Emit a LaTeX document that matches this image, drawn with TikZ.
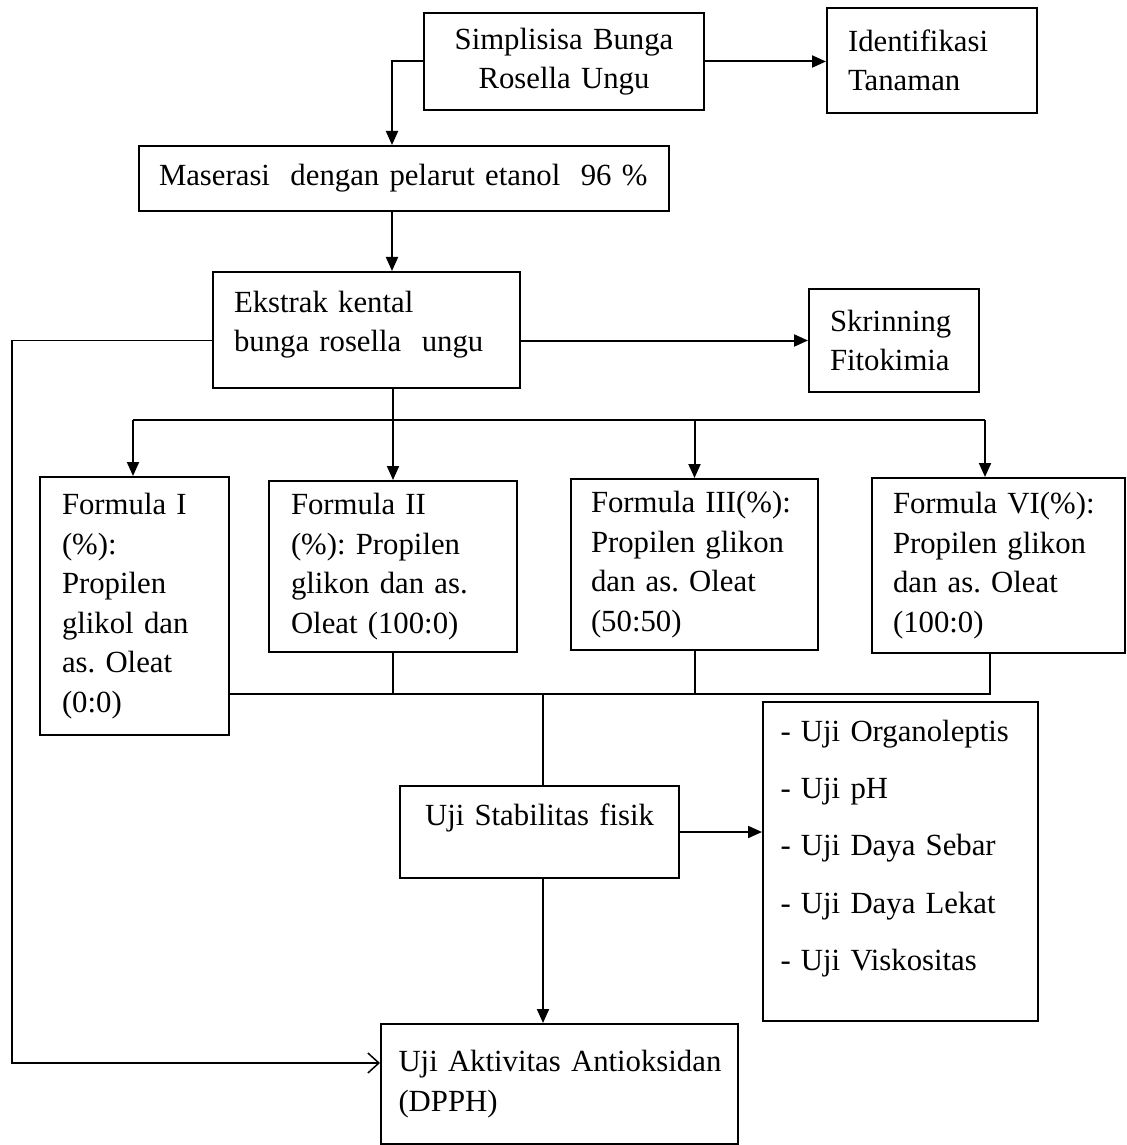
\documentclass[tikz,border=0pt]{standalone}
\usepackage{fontspec}
\setmainfont{Liberation Serif}
\usetikzlibrary{arrows.meta}
\frenchspacing
\hyphenpenalty=10000

\begin{document}
\begin{tikzpicture}[x=0.4pt,y=-0.4pt,
  font=\fontsize{12.3}{15.8}\selectfont,
  line width=0.8pt,
  box/.style={draw,anchor=north west,inner ysep=0pt,align=left},
  arr/.style={-{Triangle[length=5.6pt,width=4.8pt]}},
  barb/.style={-{Straight Barb[length=4.4pt,width=8pt]},line width=0.6pt}]
\useasboundingbox (0,0) rectangle (1126,1145);

\node[box,align=center,text width=96pt,inner xsep=8pt,minimum height=38.8pt] (simp) at (423,12) {Simplisisa Bunga\\Rosella Ungu};
\node[box,text width=67.2pt,inner xsep=8.4pt,minimum height=42pt] (ident) at (826,7) {Identifikasi\\Tanaman};
\node[box,text width=196pt,inner xsep=8pt,minimum height=26pt] (maser) at (138,145) {Maserasi\ \ dengan pelarut etanol\ \ 96~\%};
\node[box,text width=106pt,inner xsep=8.4pt,minimum height=46.4pt] (ekstr) at (212,271) {Ekstrak kental\\bunga rosella\ \ ungu\rule[-7pt]{0pt}{1pt}};
\node[box,text width=51.2pt,inner xsep=8.4pt,minimum height=41.2pt] (skrin) at (808,288) {Skrinning\\Fitokimia};

\node[box,text width=58pt,inner xsep=8.8pt,minimum height=103.2pt] (f1) at (39,476) {Formula I\\(\%):\\Propilen\\glikol dan\\as. Oleat\\(0:0)};
\node[box,text width=81.6pt,inner xsep=8.8pt,minimum height=68.4pt] (f2) at (268,480) {Formula II\\(\%): Propilen\\glikon dan as.\\Oleat (100:0)};
\node[box,text width=82.8pt,inner xsep=8pt,minimum height=68.4pt] (f3) at (570,478) {Formula~III(\%):\\Propilen glikon\\dan as. Oleat\\(50:50)};
\node[box,text width=84.4pt,inner xsep=8.4pt,minimum height=70pt] (f4) at (871,477) {Formula~VI(\%):\\Propilen glikon\\dan as. Oleat\\(100:0)};

\node[box,align=center,text width=95.6pt,inner xsep=8pt,minimum height=36.8pt] (stab) at (399,785) {Uji Stabilitas fisik\rule[-14pt]{0pt}{1pt}};
\node[box,text width=96pt,inner xsep=7pt,minimum height=127.6pt] (list) at (762,701) {-~Uji~Organoleptis\\[7.1pt]-~Uji~pH\\[7.1pt]-~Uji~Daya~Sebar\\[7.1pt]-~Uji~Daya~Lekat\\[7.1pt]-~Uji~Viskositas\rule[-13pt]{0pt}{1pt}};
\node[box,text width=128.8pt,inner xsep=7pt,minimum height=48pt] (uji) at (380,1023) {Uji~Aktivitas~Antioksidan\\(DPPH)};

\coordinate (mtop) at (392,145);
\coordinate (fb) at (12,1063);
\coordinate (busL) at (133,420);
\coordinate (busR) at (985,420);
\coordinate (joinR) at (990,694);
\coordinate (down) at (543,694);

\draw[arr] (simp.east) -- (simp.east -| ident.west);
\draw[arr] (simp.west) -| (mtop);
\draw[arr] (maser.south -| mtop) -- (ekstr.north -| mtop);
\draw[arr] (ekstr.east |- skrin.west) -- (skrin.west);
\draw[barb] (ekstr.west |- skrin.west) -| (fb) -- (fb -| uji.west);

\draw (busL) -- (busR);
\draw (f2.north |- ekstr.south) -- (f2.north |- busL);
\draw[arr] (busL) -- (busL |- f1.north);
\draw[arr] (f2.north |- busL) -- (f2.north);
\draw[arr] (f3.north |- busL) -- (f3.north);
\draw[arr] (busR) -- (busR |- f4.north);

\draw (f1.east |- joinR) -- (joinR) -- (joinR |- f4.south);
\draw (f2.south) -- (f2.south |- joinR);
\draw (f3.south) -- (f3.south |- joinR);
\draw (down) -- (down |- stab.north);
\draw[arr] (stab.east) -- (stab.east -| list.west);
\draw[arr] (stab.south -| down) -- (uji.north -| down);
\end{tikzpicture}
\end{document}
